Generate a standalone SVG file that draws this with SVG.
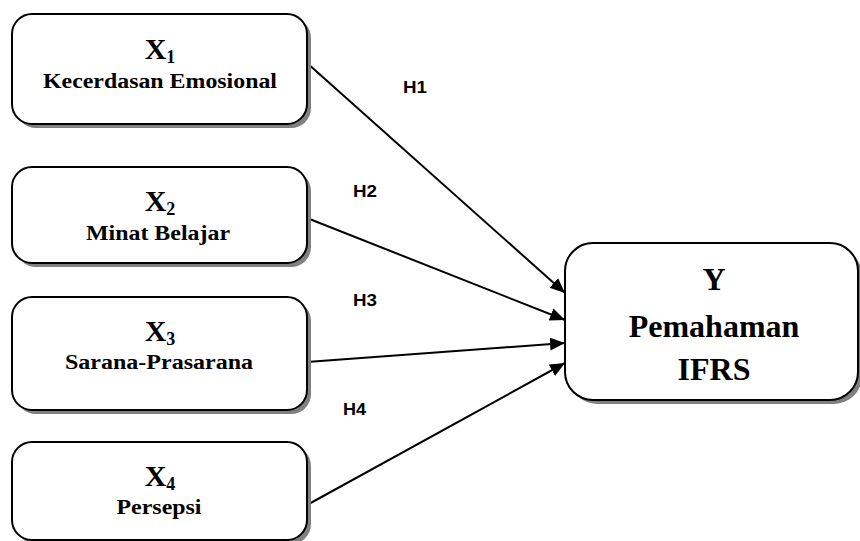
<svg xmlns="http://www.w3.org/2000/svg" width="860" height="541" viewBox="0 0 860 541">
<style>
.shadow{fill:#808080;stroke:none}
.box{fill:#fff;stroke:#000;stroke-width:2}
.t{font-family:"Liberation Serif","Times New Roman",serif;font-weight:bold;fill:#000;text-anchor:middle}
.big{font-size:30px}
.sub{font-size:20px}
.y{font-size:32px}
.h{font-family:"Liberation Sans",Arial,sans-serif;font-weight:bold;font-size:16px;fill:#000}
.c{stroke:#000;stroke-width:2;fill:none;marker-end:url(#arr)}
</style>
<defs>
<marker id="arr" markerUnits="userSpaceOnUse" markerWidth="16" markerHeight="14" refX="15" refY="6.5" orient="auto">
<path d="M0,0 L15,6.5 L0,13 z" fill="#000"/>
</marker>
</defs>
<rect width="860" height="541" fill="#fff"/>
<g id="connectors">
<line class="c" x1="307" y1="63" x2="565" y2="293"/>
<line class="c" x1="307" y1="218" x2="565" y2="320"/>
<line class="c" x1="307" y1="362" x2="565" y2="343"/>
<line class="c" x1="307" y1="505" x2="565" y2="363"/>
</g>
<g id="x1">
<rect class="shadow" x="16" y="18" width="295" height="110" rx="20"/>
<rect class="box" x="12" y="14" width="295" height="110" rx="20"/>
<text class="t big" x="160" y="59">X<tspan font-size="18" dy="4">1</tspan></text>
<text class="t sub" x="160" y="88" textLength="234" lengthAdjust="spacingAndGlyphs">Kecerdasan Emosional</text>
</g>
<g id="x2">
<rect class="shadow" x="16" y="171" width="295" height="96" rx="20"/>
<rect class="box" x="12" y="167" width="295" height="96" rx="20"/>
<text class="t big" x="160" y="211">X<tspan font-size="18" dy="4">2</tspan></text>
<text class="t sub" x="158" y="240" textLength="144" lengthAdjust="spacingAndGlyphs">Minat Belajar</text>
</g>
<g id="x3">
<rect class="shadow" x="16" y="301" width="295" height="113" rx="20"/>
<rect class="box" x="12" y="297" width="295" height="113" rx="20"/>
<text class="t big" x="160" y="341">X<tspan font-size="18" dy="4">3</tspan></text>
<text class="t sub" x="159" y="369" textLength="188" lengthAdjust="spacingAndGlyphs">Sarana-Prasarana</text>
</g>
<g id="x4">
<rect class="shadow" x="16" y="446" width="295" height="98" rx="20"/>
<rect class="box" x="12" y="442" width="295" height="98" rx="20"/>
<text class="t big" x="160" y="486">X<tspan font-size="18" dy="4">4</tspan></text>
<text class="t sub" x="159" y="514" textLength="85" lengthAdjust="spacingAndGlyphs">Persepsi</text>
</g>
<g id="y">
<rect class="shadow" x="569" y="247" width="293" height="157" rx="28"/>
<rect class="box" x="565" y="243" width="293" height="157" rx="28"/>
<text class="t y" x="714" y="290">Y</text>
<text class="t y" x="714" y="337">Pemahaman</text>
<text class="t y" x="714" y="380">IFRS</text>
</g>
<g id="labels">
<text class="h" x="403" y="93" textLength="24" lengthAdjust="spacingAndGlyphs">H1</text>
<text class="h" x="353" y="197" textLength="24" lengthAdjust="spacingAndGlyphs">H2</text>
<text class="h" x="353" y="306" textLength="24" lengthAdjust="spacingAndGlyphs">H3</text>
<text class="h" x="343" y="415" textLength="23" lengthAdjust="spacingAndGlyphs">H4</text>
</g>
</svg>
